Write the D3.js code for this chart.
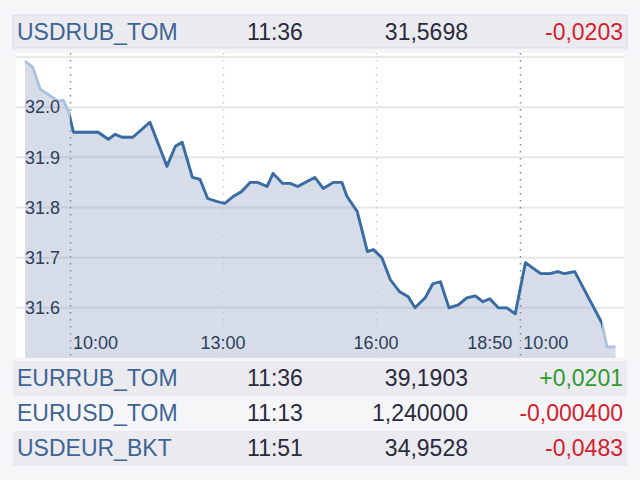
<!DOCTYPE html>
<html>
<head>
<meta charset="UTF-8">
<title>USDRUB_TOM</title>
<script src="https://d3js.org/d3.v7.min.js"></script>
<style>
body { margin: 0; background: #f6f6f8; font-family: "Liberation Sans", Arial, sans-serif; }
.grid line { stroke: rgba(140, 145, 170, 0.22); stroke-width: 2; }
.ylab { font-size: 18px; fill: #2e3d5c; }
.xlab { font-size: 18px; fill: #2e3d5c; }
.qname { fill: #3d6494; }
.qtext { fill: #2a2a3e; }
</style>
</head>
<body>
<script>
// quote table
var quoteNames   = ["USDRUB_TOM", "EURRUB_TOM", "EURUSD_TOM", "USDEUR_BKT"];
var quoteTimes   = ["11:36", "11:36", "11:13", "11:51"];
var quoteValues  = ["31,5698", "39,1903", "1,240000", "34,9528"];
var quoteChanges = ["-0,0203", "+0,0201", "-0,000400", "-0,0483"];

// trading sessions on the x axis (day 0 = end of previous day)
var sessionDay   = [0, 1, 2];
var sessionOpen  = ["17:57", "10:00", "10:00"];
var sessionClose = ["18:50", "18:50", "12:02"];

// USDRUB_TOM price series
var pointDay = [0, 0, 0, 0, 0, 0,
  1, 1, 1, 1, 1, 1, 1, 1, 1, 1, 1, 1, 1, 1, 1, 1, 1, 1, 1, 1, 1, 1, 1, 1, 1, 1, 1, 1, 1, 1, 1, 1,
  1, 1, 1, 1, 1, 1, 1, 1, 1, 1, 1, 1, 1, 1, 1, 1, 1, 1,
  2, 2, 2, 2, 2, 2, 2, 2, 2, 2];
var pointTime = ["17:57", "18:06", "18:15", "18:36", "18:42", "18:48",
  "10:04", "10:33", "10:45", "10:53", "11:01", "11:14", "11:34", "11:54", "12:04", "12:12",
  "12:24", "12:33", "12:42", "12:53", "13:02", "13:12", "13:22", "13:32", "13:41", "13:52",
  "13:59", "14:10", "14:19", "14:28", "14:39", "14:48", "14:58", "15:10", "15:20", "15:26",
  "15:38", "15:50", "15:57", "16:07", "16:17", "16:28", "16:38", "16:46", "16:58", "17:07",
  "17:16", "17:26", "17:37", "17:47", "17:57", "18:06", "18:14", "18:24", "18:34", "18:44",
  "10:06", "10:14", "10:24", "10:35", "10:44", "10:52", "11:04", "11:36", "11:42", "11:52"];
var pointValue = [32.092, 32.080, 32.036, 32.012, 32.014, 31.992,
  31.950, 31.950, 31.936, 31.946, 31.940, 31.940, 31.970, 31.882, 31.922, 31.930,
  31.860, 31.856, 31.818, 31.812, 31.808, 31.822, 31.832, 31.850, 31.850, 31.842,
  31.868, 31.848, 31.848, 31.842, 31.852, 31.860, 31.838, 31.850, 31.850, 31.822,
  31.792, 31.712, 31.716, 31.700, 31.656, 31.632, 31.622, 31.600, 31.620, 31.648,
  31.652, 31.600, 31.606, 31.620, 31.624, 31.612, 31.618, 31.600, 31.600, 31.588,
  31.690, 31.680, 31.668, 31.668, 31.672, 31.668, 31.672, 31.5698, 31.522, 31.522];

// span drawn with the dark line: [day, time]
var activeFrom = [1, "10:00"];
var activeTo   = [2, "11:36"];

// axes
var yDomain = [31.5, 32.1];
var yTicks  = [31.6, 31.7, 31.8, 31.9, 32.0, 32.1];
var yLabels = ["31.6", "31.7", "31.8", "31.9", "32.0", ""];
var hourLineDay  = [1, 1];
var hourLineTime = ["13:00", "16:00"];
var xTickDay  = [1, 1, 1, 1, 2];
var xTickTime = ["10:00", "13:00", "16:00", "18:50", "10:00"];

var W = 640, H = 480;
var panel = {left: 16, right: 624, top: 53, bottom: 358};
var plot = {left: 25, right: 624, top: 57, bottom: 358};

function toMin(s) { var p = s.split(":"); return +p[0] * 60 + +p[1]; }

var offsets = [], total = 0;
sessionDay.forEach(function(d, i) {
	offsets[i] = total;
	total += toMin(sessionClose[i]) - toMin(sessionOpen[i]);
});
function axisPos(day, time) {
	var i = sessionDay.indexOf(day);
	return offsets[i] + toMin(time) - toMin(sessionOpen[i]);
}

var x = d3.scaleLinear().domain([0, total]).range([plot.left, plot.right]);
var y = d3.scaleLinear().domain(yDomain).range([plot.bottom, plot.top]);

var data = pointValue.map(function(v, i) {
	return {t: axisPos(pointDay[i], pointTime[i]), v: v};
});

var svg = d3.select("body").append("svg")
	.attr("width", W)
	.attr("height", H);

// quote rows
var rowTop = [15, 361, 396, 431];
var rowFill = ["#ebebef", "#ebebef", "#f6f6f8", "#ebebef"];
var rows = svg.selectAll("g.row")
	.data(quoteNames)
	.enter().append("g")
		.attr("class", "row")
		.attr("transform", function(d, i) { return "translate(0," + rowTop[i] + ")"; });

rows.append("rect")
	.attr("x", 13)
	.attr("width", 614)
	.attr("height", function(d, i) { return i == 0 ? 33 : 35; })
	.attr("fill", function(d, i) { return rowFill[i]; })
	.attr("stroke", function(d, i) { return i == 0 ? "#dcd6ee" : "none"; });

rows.append("text")
	.attr("class", "qname")
	.attr("x", 17)
	.attr("y", 25)
	.style("font-size", "23px")
	.text(function(d) { return d; });

rows.append("text")
	.attr("class", "qtext")
	.attr("x", 275)
	.attr("y", 25)
	.attr("text-anchor", "middle")
	.style("font-size", "23px")
	.text(function(d, i) { return quoteTimes[i]; });

rows.append("text")
	.attr("class", "qtext")
	.attr("x", 468)
	.attr("y", 25)
	.attr("text-anchor", "end")
	.style("font-size", "23px")
	.text(function(d, i) { return quoteValues[i]; });

rows.append("text")
	.attr("x", 623)
	.attr("y", 25)
	.attr("text-anchor", "end")
	.attr("fill", function(d, i) { return quoteChanges[i].charAt(0) == "+" ? "#2e9a2e" : "#d4202e"; })
	.style("font-size", "23px")
	.text(function(d, i) { return quoteChanges[i]; });

// chart panel
svg.append("rect")
	.attr("x", panel.left)
	.attr("y", panel.top)
	.attr("width", panel.right - panel.left)
	.attr("height", panel.bottom - panel.top)
	.attr("fill", "#ffffff");

var area = d3.area()
	.x(function(d) { return x(d.t); })
	.y0(y(yDomain[0]))
	.y1(function(d) { return y(d.v); });

var line = d3.line()
	.x(function(d) { return x(d.t); })
	.y(function(d) { return y(d.v); });

svg.append("path")
	.attr("d", area(data))
	.attr("fill", "#d6dde8");

// horizontal grid
svg.append("g")
	.attr("class", "grid")
	.selectAll("line")
	.data(yTicks)
	.enter().append("line")
		.attr("x1", panel.left)
		.attr("x2", panel.right)
		.attr("y1", function(d) { return y(d); })
		.attr("y2", function(d) { return y(d); });

// day breaks (between sessions) and hour lines
var breaks = sessionDay.slice(1).map(function(d, i) { return offsets[i + 1]; });
svg.selectAll("line.daybreak")
	.data(breaks)
	.enter().append("line")
		.attr("class", "daybreak")
		.attr("x1", function(d) { return Math.round(x(d)) + 0.5; })
		.attr("x2", function(d) { return Math.round(x(d)) + 0.5; })
		.attr("y1", panel.top)
		.attr("y2", panel.bottom + 3)
		.attr("stroke", "#7d8ca2")
		.attr("stroke-width", 1.6)
		.attr("stroke-dasharray", "1.5,5.5");

svg.selectAll("line.hour")
	.data(hourLineTime)
	.enter().append("line")
		.attr("class", "hour")
		.attr("x1", function(d, i) { return Math.round(x(axisPos(hourLineDay[i], d))) + 0.5; })
		.attr("x2", function(d, i) { return Math.round(x(axisPos(hourLineDay[i], d))) + 0.5; })
		.attr("y1", panel.top)
		.attr("y2", panel.bottom + 3)
		.attr("stroke", "#c4c9d6")
		.attr("stroke-width", 1.4)
		.attr("stroke-dasharray", "1.5,5.5");

// faded full series, then the active part in dark blue
svg.append("path")
	.attr("d", line(data))
	.attr("fill", "none")
	.attr("stroke", "#a9c1dc")
	.attr("stroke-width", 2.8)
	.attr("stroke-linejoin", "round");

var x0 = x(axisPos(activeFrom[0], activeFrom[1]));
var x1 = x(axisPos(activeTo[0], activeTo[1]));
svg.append("clipPath")
	.attr("id", "active")
	.append("rect")
		.attr("x", x0)
		.attr("y", panel.top)
		.attr("width", x1 - x0)
		.attr("height", panel.bottom - panel.top);

svg.append("path")
	.attr("d", line(data))
	.attr("clip-path", "url(#active)")
	.attr("fill", "none")
	.attr("stroke", "#3a6ca4")
	.attr("stroke-width", 2.8)
	.attr("stroke-linejoin", "round");

// y labels inside the plot
svg.selectAll("text.ylab")
	.data(yTicks)
	.enter().append("text")
		.attr("class", "ylab")
		.attr("x", plot.left)
		.attr("y", function(d) { return y(d); })
		.attr("dy", "0.35em")
		.text(function(d, i) { return yLabels[i]; });

// x labels: at a session open -> start, at a close -> end, else centred
svg.selectAll("text.xlab")
	.data(xTickTime)
	.enter().append("text")
		.attr("class", "xlab")
		.attr("x", function(d, i) {
			var s = sessionDay.indexOf(xTickDay[i]);
			var px = x(axisPos(xTickDay[i], d));
			if (d == sessionOpen[s]) return px + 3;
			if (d == sessionClose[s]) return px - 8;
			return px;
		})
		.attr("y", 349)
		.attr("text-anchor", function(d, i) {
			var s = sessionDay.indexOf(xTickDay[i]);
			if (d == sessionOpen[s]) return "start";
			if (d == sessionClose[s]) return "end";
			return "middle";
		})
		.text(function(d) { return d; });
</script>
</body>
</html>
